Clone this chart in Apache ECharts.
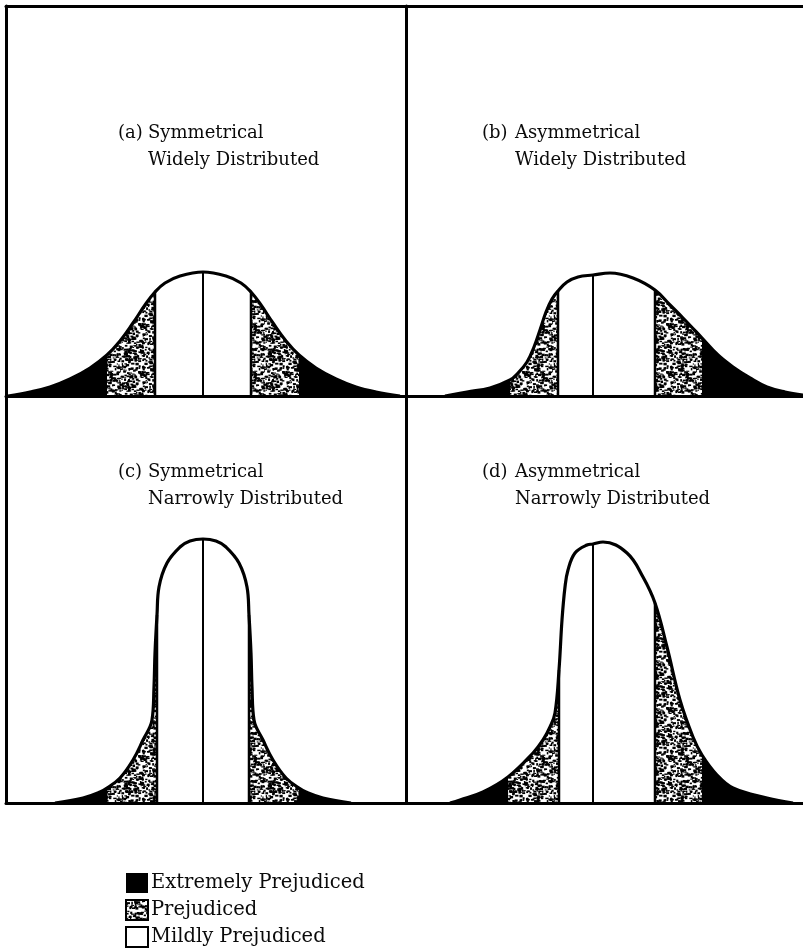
<!DOCTYPE html>
<html><head><meta charset="utf-8">
<script src="https://cdn.jsdelivr.net/npm/echarts@6/dist/echarts.min.js"></script>
<style>html,body{margin:0;padding:0;background:#fff}#c{width:803px;height:950px}</style>
</head><body><div id="c"></div>
<script>
// ---- data (x: attitude scale across a panel, y: relative frequency) ----
const CATEGORIES = ['Extremely Prejudiced', 'Prejudiced', 'Mildly Prejudiced'];

const PANEL_LABELS = ['(a)', '(b)', '(c)', '(d)'];
const PANEL_SHAPES = ['Symmetrical', 'Asymmetrical', 'Symmetrical', 'Asymmetrical'];
const PANEL_SPREADS = ['Widely Distributed', 'Widely Distributed', 'Narrowly Distributed', 'Narrowly Distributed'];

const A_X = [0.5, 6, 11, 16, 21, 25.25, 28.5, 31.75, 34.75, 37.25, 39.75, 43.5, 49.25, 55, 58.75, 61.25, 63.75, 66.75, 70, 73.25, 77.5, 82.5, 87.5, 92.5, 98.5];
const A_Y = [0, 1, 2.25, 4.25, 7, 10.25, 13.75, 18.25, 22.75, 26, 28.25, 30, 31, 30, 28.25, 26, 22.75, 18.25, 13.75, 10.25, 7, 4.25, 2.25, 1, 0];
const A_CUTS = [25.25, 37.25, 49.25, 61.25, 73.25];

const B_X = [9.75, 15.25, 21, 26, 28, 30.25, 32, 33.5, 35, 36.5, 38, 40.25, 43, 46.75, 51, 56.75, 62.25, 66, 69.25, 74, 78, 81.75, 86, 90.25, 94.75, 99.25];
const B_Y = [0, 1, 2, 4, 5.75, 8.5, 12.25, 16.5, 21, 24.25, 26.25, 28.5, 29.75, 30.25, 30.75, 29.5, 26.5, 22.75, 19.5, 14.5, 10.25, 7.25, 4.5, 2.25, 1, 0.25];
const B_CUTS = [26, 38, 46.75, 62.25, 74];

const C_X = [12.25, 19.25, 23.5, 25.25, 28.5, 31.75, 34.25, 36.5, 37, 37.25, 37.75, 38.25, 40.25, 43.5, 46, 49.25, 52.5, 55, 58.25, 60.25, 60.75, 61.25, 61.5, 62, 64.25, 66.75, 70, 73.25, 75, 79.25, 86.25];
const C_Y = [0, 1.25, 2.75, 3.75, 6.25, 10.75, 15.75, 20.75, 29, 37.5, 47, 54, 60, 64, 65.5, 66, 65.5, 64, 60, 54, 47, 37.5, 29, 20.75, 15.75, 10.75, 6.25, 3.75, 2.75, 1.25, 0];
const C_CUTS = [25.25, 37.75, 49.25, 60.75, 73.25];

const D_X = [11, 13.5, 19.25, 25.5, 31.75, 34.25, 36, 37.25, 38.25, 39, 39.75, 40.5, 42.25, 45.25, 46.75, 49.25, 55.25, 59.25, 62.25, 65.25, 68.5, 71.75, 74, 77.75, 81.75, 90.25, 96.75];
const D_Y = [0, 0.75, 2.75, 6.5, 12.5, 15.75, 19, 22.5, 33.25, 45.75, 54, 58.25, 62.5, 64.5, 64.75, 65.25, 62.5, 56.5, 50, 39, 25.75, 16.5, 12, 7, 3.75, 1.25, 0];
const D_CUTS = [25.5, 38.25, 46.75, 62.25, 74];

const PANELS = [[A_X, A_Y, A_CUTS], [B_X, B_Y, B_CUTS], [C_X, C_Y, C_CUTS], [D_X, D_Y, D_CUTS]];

// ---- layout / style ----
const GRIDS = [
  {left: 6, top: 6, width: 400, height: 390},
  {left: 406, top: 6, width: 397, height: 390},
  {left: 6, top: 396, width: 400, height: 407},
  {left: 406, top: 396, width: 397, height: 407}
];
const TITLE_POS = [[118, 148, 120], [482, 515, 120], [118, 148, 459], [482, 515, 459]];
const FONT = 'DejaVu Serif';

function makeStipple() {
  const c = document.createElement('canvas');
  c.width = 48; c.height = 48;
  const g = c.getContext('2d');
  g.fillStyle = '#fff'; g.fillRect(0, 0, 48, 48);
  g.fillStyle = '#000';
  let s = 12345;
  const r = () => { s = (s * 1103515245 + 12345) % 2147483648; return s / 2147483648; };
  for (let i = 0; i < 430; i++) {
    const x = r() * 48, y = r() * 48;
    const w = 1 + r() * 2.5, h = 1 + r() * 1.6;
    g.fillRect(x, y, w, h);
    if (x + w > 48) g.fillRect(x - 48, y, w, h);
    if (y + h > 48) g.fillRect(x, y - 48, w, h);
  }
  return c;
}
const STIPPLE = {image: makeStipple(), repeat: 'repeat'};
const FILLS = ['#000', STIPPLE, '#fff'];

const chart = echarts.init(document.getElementById('c'), null, {renderer: 'canvas'});

const noAxisBits = {axisTick: {show: false}, axisLabel: {show: false}, splitLine: {show: false}};
const frameLine = {show: true, onZero: false, lineStyle: {color: '#000', width: 3}};
const grid = GRIDS.map(g => Object.assign({show: false, containLabel: false}, g));
const xAxis = [];
GRIDS.forEach((g, i) => {
  xAxis.push(Object.assign({type: 'value', gridIndex: i, position: 'bottom', min: 0, max: g.width / 4, z: 10, axisLine: frameLine}, noAxisBits));
  if (i < 2) xAxis.push(Object.assign({type: 'value', gridIndex: i, position: 'top', min: 0, max: g.width / 4, z: 10, axisLine: frameLine}, noAxisBits));
});
const X_INDEX = [0, 2, 4, 5];
const yAxis = GRIDS.map((g, i) => Object.assign({
  type: 'value', gridIndex: i, min: 0, max: g.height / 4, z: 10, axisLine: frameLine
}, noAxisBits));

const series = [];
const SMOOTH = 0.4;
PANELS.forEach(([X, Y, CUTS], p) => {
  const pts = X.map((x, i) => [x, Y[i]]);
  const idx = CUTS.map(c => X.indexOf(c));
  const xi = X_INDEX[p];
  const regions = [
    [0, idx[0], 0], [idx[0], idx[1], 1], [idx[1], idx[3], 2], [idx[3], idx[4], 1], [idx[4], pts.length - 1, 0]
  ];
  regions.forEach(([a, b, k]) => {
    series.push({
      type: 'line', name: CATEGORIES[k], xAxisIndex: xi, yAxisIndex: p,
      data: pts.slice(a, b + 1), smooth: SMOOTH, showSymbol: false, silent: true, z: 2,
      lineStyle: {width: 0, opacity: 0}, itemStyle: {color: k === 0 ? '#000' : (k === 1 ? '#555' : '#fff')},
      areaStyle: {color: FILLS[k], opacity: 1}
    });
  });
  [1, 2, 3].forEach(j => {
    const pt = pts[idx[j]];
    series.push({
      type: 'line', name: 'divider', xAxisIndex: xi, yAxisIndex: p, silent: true, z: 3,
      data: [[pt[0], 0], [pt[0], pt[1]]], showSymbol: false,
      lineStyle: {color: '#000', width: j === 2 ? 2 : 2.5}
    });
  });
  series.push({
    type: 'line', name: 'outline', xAxisIndex: xi, yAxisIndex: p, silent: true, z: 4,
    data: pts, smooth: SMOOTH, showSymbol: false,
    lineStyle: {color: '#000', width: 3.2}
  });
});

const title = [];
PANEL_LABELS.forEach((lab, i) => {
  const [x1, x2, top] = TITLE_POS[i];
  const ts = {fontFamily: FONT, fontSize: 18, fontWeight: 'normal', color: '#0a0a0a', lineHeight: 27};
  title.push({text: lab, left: x1, top: top, padding: 0, textStyle: ts});
  title.push({text: PANEL_SHAPES[i] + '\n' + PANEL_SPREADS[i], left: x2, top: top, padding: 0, textStyle: ts});
});

chart.setOption({
  animation: false,
  backgroundColor: '#fff',
  title: title,
  grid: grid, xAxis: xAxis, yAxis: yAxis,
  legend: {
    orient: 'vertical', left: 125, top: 872, height: 78, padding: 0, itemGap: 5,
    itemWidth: 22, itemHeight: 20, icon: 'rect', selectedMode: false, itemStyle: {borderJoin: 'miter'},
    textStyle: {fontFamily: FONT, fontSize: 19.5, color: '#0a0a0a', lineHeight: 22, padding: [0, 0, 0, -2]},
    data: CATEGORIES.map((n, i) => ({name: n, itemStyle: {color: FILLS[i], borderColor: '#000', borderWidth: i === 0 ? 0 : 2}}))
  },
  series: series
});
</script>
</body></html>
